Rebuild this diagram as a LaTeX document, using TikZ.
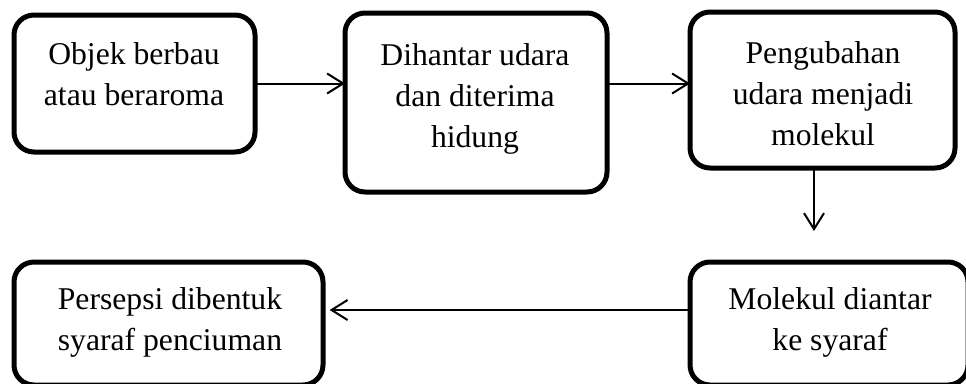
\documentclass[tikz,border=0pt]{standalone}
\usepackage{fontspec}
\setmainfont{Liberation Serif}
\usetikzlibrary{arrows.meta}
\begin{document}
\begin{tikzpicture}[x=0.75pt,y=-0.75pt,
  stepbox/.style={draw=black,line width=3.75pt,rounded corners=15pt,
    rectangle,inner sep=0pt,outer sep=0pt},
  label/.style={anchor=base,align=center,inner sep=0pt,
    font=\fontsize{23.75}{30.6}\selectfont},
  flow/.style={draw=black,line width=1.5pt,
    -{Straight Barb[length=12pt,width=15pt,line width=1.5pt]}}]
\useasboundingbox (0,0) rectangle (966,383);
\clip (0,0) rectangle (966,383);
% process boxes
\node[stepbox,minimum width=180.75pt,minimum height=102.75pt] (b1) at (134.5,83.5) {};
\node[stepbox,minimum width=196.5pt,minimum height=134.25pt] (b2) at (476,102.5) {};
\node[stepbox,minimum width=198.75pt,minimum height=117pt] (b3) at (822.5,90) {};
\node[stepbox,minimum width=208.5pt,minimum height=92.25pt] (b4) at (829,323.5) {};
\node[stepbox,minimum width=231.75pt,minimum height=92.25pt] (b5) at (168.5,323.5) {};
% box texts, placed by the baseline of their last line
\node[label] (t1) at (134,105) {Objek berbau\\atau beraroma};
\node[label] (t2) at (475,147) {Dihantar udara\\dan diterima\\hidung};
\node[label] (t3) at (823,145) {Pengubahan\\udara menjadi\\molekul};
\node[label] (t4) at (830,350) {Molekul diantar\\ke syaraf};
\node[label] (t5) at (170,350) {Persepsi dibentuk\\syaraf penciuman};
% connectors
\coordinate (down) at (814,231);
\coordinate (lvl) at (0,310);
\draw[flow] (b1.east) -- (b1.east -| b2.west);
\draw[flow] (b2.east |- b1.east) -- (b3.west |- b1.east);
\draw[flow] (b3.south -| down) -- (down);
\draw[flow,shorten >=5pt] (b4.west |- lvl) -- (b5.east |- lvl);
\end{tikzpicture}
\end{document}
